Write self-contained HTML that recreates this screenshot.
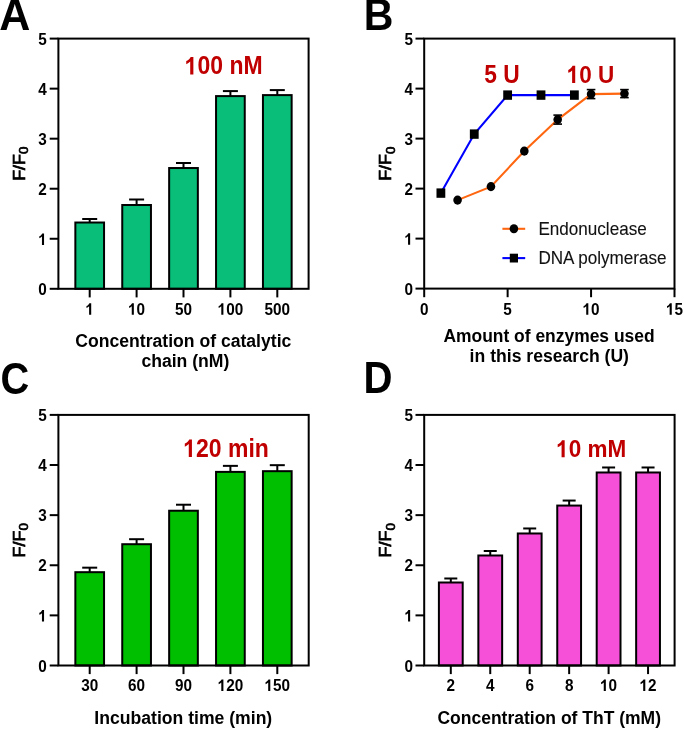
<!DOCTYPE html>
<html><head><meta charset="utf-8"><style>
html,body{margin:0;padding:0;background:#fff;}
body{width:685px;height:730px;overflow:hidden;}
svg{display:block;font-family:"Liberation Sans", sans-serif;filter:blur(0.35px);}
</style></head><body>
<svg width="685" height="730" viewBox="0 0 685 730">
<text transform="translate(-0.80,29.80) scale(1.05,1.07)" font-size="41" font-weight="bold" text-anchor="start" fill="#000" >A</text>
<line x1="89.70" y1="222.52" x2="89.70" y2="219.02" stroke="#000" stroke-width="2.0" stroke-linecap="butt"/>
<line x1="82.20" y1="219.02" x2="97.20" y2="219.02" stroke="#000" stroke-width="2.0" stroke-linecap="butt"/>
<rect x="75.35" y="222.52" width="28.70" height="66.28" fill="#08BE78" stroke="#000" stroke-width="2.0"/>
<line x1="89.70" y1="288.80" x2="89.70" y2="297.40" stroke="#000" stroke-width="2.0" stroke-linecap="butt"/>
<line x1="136.60" y1="205.01" x2="136.60" y2="199.50" stroke="#000" stroke-width="2.0" stroke-linecap="butt"/>
<line x1="129.10" y1="199.50" x2="144.10" y2="199.50" stroke="#000" stroke-width="2.0" stroke-linecap="butt"/>
<rect x="122.25" y="205.01" width="28.70" height="83.79" fill="#08BE78" stroke="#000" stroke-width="2.0"/>
<line x1="136.60" y1="288.80" x2="136.60" y2="297.40" stroke="#000" stroke-width="2.0" stroke-linecap="butt"/>
<line x1="183.50" y1="168.03" x2="183.50" y2="163.02" stroke="#000" stroke-width="2.0" stroke-linecap="butt"/>
<line x1="176.00" y1="163.02" x2="191.00" y2="163.02" stroke="#000" stroke-width="2.0" stroke-linecap="butt"/>
<rect x="169.15" y="168.03" width="28.70" height="120.77" fill="#08BE78" stroke="#000" stroke-width="2.0"/>
<line x1="183.50" y1="288.80" x2="183.50" y2="297.40" stroke="#000" stroke-width="2.0" stroke-linecap="butt"/>
<line x1="230.40" y1="96.10" x2="230.40" y2="91.09" stroke="#000" stroke-width="2.0" stroke-linecap="butt"/>
<line x1="222.90" y1="91.09" x2="237.90" y2="91.09" stroke="#000" stroke-width="2.0" stroke-linecap="butt"/>
<rect x="216.05" y="96.10" width="28.70" height="192.70" fill="#08BE78" stroke="#000" stroke-width="2.0"/>
<line x1="230.40" y1="288.80" x2="230.40" y2="297.40" stroke="#000" stroke-width="2.0" stroke-linecap="butt"/>
<line x1="277.30" y1="95.10" x2="277.30" y2="90.09" stroke="#000" stroke-width="2.0" stroke-linecap="butt"/>
<line x1="269.80" y1="90.09" x2="284.80" y2="90.09" stroke="#000" stroke-width="2.0" stroke-linecap="butt"/>
<rect x="262.95" y="95.10" width="28.70" height="193.70" fill="#08BE78" stroke="#000" stroke-width="2.0"/>
<line x1="277.30" y1="288.80" x2="277.30" y2="297.40" stroke="#000" stroke-width="2.0" stroke-linecap="butt"/>
<rect x="58.4" y="38.6" width="250.20" height="250.20" fill="none" stroke="#000" stroke-width="2.0"/>
<line x1="49.70" y1="288.80" x2="58.40" y2="288.80" stroke="#000" stroke-width="2.0" stroke-linecap="butt"/>
<text transform="translate(46.80,295.00) scale(1.0,1.09)" font-size="15.3" font-weight="bold" text-anchor="end" fill="#000" >0</text>
<line x1="49.70" y1="238.76" x2="58.40" y2="238.76" stroke="#000" stroke-width="2.0" stroke-linecap="butt"/>
<text transform="translate(46.80,244.96) scale(1.0,1.09)" font-size="15.3" font-weight="bold" text-anchor="end" fill="#000" > </text>
<path transform="translate(46.80,244.96) scale(1.0,1.09) translate(-8.509,0) scale(0.00747,-0.00747)" d="M771 0H490V1035Q340 895 137 830V1075Q245 1110 365 1205Q485 1300 530 1409H771Z" fill="#000"/>
<line x1="49.70" y1="188.72" x2="58.40" y2="188.72" stroke="#000" stroke-width="2.0" stroke-linecap="butt"/>
<text transform="translate(46.80,194.92) scale(1.0,1.09)" font-size="15.3" font-weight="bold" text-anchor="end" fill="#000" >2</text>
<line x1="49.70" y1="138.68" x2="58.40" y2="138.68" stroke="#000" stroke-width="2.0" stroke-linecap="butt"/>
<text transform="translate(46.80,144.88) scale(1.0,1.09)" font-size="15.3" font-weight="bold" text-anchor="end" fill="#000" >3</text>
<line x1="49.70" y1="88.64" x2="58.40" y2="88.64" stroke="#000" stroke-width="2.0" stroke-linecap="butt"/>
<text transform="translate(46.80,94.84) scale(1.0,1.09)" font-size="15.3" font-weight="bold" text-anchor="end" fill="#000" >4</text>
<line x1="49.70" y1="38.60" x2="58.40" y2="38.60" stroke="#000" stroke-width="2.0" stroke-linecap="butt"/>
<text transform="translate(46.80,44.80) scale(1.0,1.09)" font-size="15.3" font-weight="bold" text-anchor="end" fill="#000" >5</text>
<text transform="translate(25.00,163.70) rotate(-90) scale(1.12,1)" font-size="16" font-weight="normal" text-anchor="middle" fill="#000" stroke="#000" stroke-width="0.7">F/F<tspan font-size="12" dy="3.3">0</tspan></text>
<text transform="translate(89.70,314.70) scale(1.0,1.09)" font-size="15.3" font-weight="bold" text-anchor="middle" fill="#000" > </text>
<path transform="translate(89.70,314.70) scale(1.0,1.09) translate(-4.255,0) scale(0.00747,-0.00747)" d="M771 0H490V1035Q340 895 137 830V1075Q245 1110 365 1205Q485 1300 530 1409H771Z" fill="#000"/>
<text transform="translate(136.60,314.70) scale(1.0,1.09)" font-size="15.3" font-weight="bold" text-anchor="middle" fill="#000" > 0</text>
<path transform="translate(136.60,314.70) scale(1.0,1.09) translate(-8.509,0) scale(0.00747,-0.00747)" d="M771 0H490V1035Q340 895 137 830V1075Q245 1110 365 1205Q485 1300 530 1409H771Z" fill="#000"/>
<text transform="translate(183.50,314.70) scale(1.0,1.09)" font-size="15.3" font-weight="bold" text-anchor="middle" fill="#000" >50</text>
<text transform="translate(230.40,314.70) scale(1.0,1.09)" font-size="15.3" font-weight="bold" text-anchor="middle" fill="#000" > 00</text>
<path transform="translate(230.40,314.70) scale(1.0,1.09) translate(-12.764,0) scale(0.00747,-0.00747)" d="M771 0H490V1035Q340 895 137 830V1075Q245 1110 365 1205Q485 1300 530 1409H771Z" fill="#000"/>
<text transform="translate(277.30,314.70) scale(1.0,1.09)" font-size="15.3" font-weight="bold" text-anchor="middle" fill="#000" >500</text>
<text x="183.30" y="347.20" font-size="17.6" font-weight="bold" text-anchor="middle" fill="#000" >Concentration of catalytic</text>
<text x="185.40" y="367.30" font-size="17.6" font-weight="bold" text-anchor="middle" fill="#000" >chain (nM)</text>
<text transform="translate(223.70,74.40) scale(1.0,1.1)" font-size="23" font-weight="bold" text-anchor="middle" fill="#C00000" > 00 nM</text>
<path transform="translate(223.70,74.40) scale(1.0,1.1) translate(-38.987,0) scale(0.01123,-0.01123)" d="M771 0H490V1035Q340 895 137 830V1075Q245 1110 365 1205Q485 1300 530 1409H771Z" fill="#C00000"/>
<text transform="translate(0.60,393.60) scale(0.97,1.07)" font-size="41" font-weight="bold" text-anchor="start" fill="#000" >C</text>
<line x1="89.70" y1="572.18" x2="89.70" y2="567.67" stroke="#000" stroke-width="2.0" stroke-linecap="butt"/>
<line x1="82.20" y1="567.67" x2="97.20" y2="567.67" stroke="#000" stroke-width="2.0" stroke-linecap="butt"/>
<rect x="75.35" y="572.18" width="28.70" height="93.32" fill="#00BF00" stroke="#000" stroke-width="2.0"/>
<line x1="89.70" y1="665.50" x2="89.70" y2="674.10" stroke="#000" stroke-width="2.0" stroke-linecap="butt"/>
<line x1="136.60" y1="544.21" x2="136.60" y2="539.20" stroke="#000" stroke-width="2.0" stroke-linecap="butt"/>
<line x1="129.10" y1="539.20" x2="144.10" y2="539.20" stroke="#000" stroke-width="2.0" stroke-linecap="butt"/>
<rect x="122.25" y="544.21" width="28.70" height="121.29" fill="#00BF00" stroke="#000" stroke-width="2.0"/>
<line x1="136.60" y1="665.50" x2="136.60" y2="674.10" stroke="#000" stroke-width="2.0" stroke-linecap="butt"/>
<line x1="183.50" y1="510.73" x2="183.50" y2="504.72" stroke="#000" stroke-width="2.0" stroke-linecap="butt"/>
<line x1="176.00" y1="504.72" x2="191.00" y2="504.72" stroke="#000" stroke-width="2.0" stroke-linecap="butt"/>
<rect x="169.15" y="510.73" width="28.70" height="154.77" fill="#00BF00" stroke="#000" stroke-width="2.0"/>
<line x1="183.50" y1="665.50" x2="183.50" y2="674.10" stroke="#000" stroke-width="2.0" stroke-linecap="butt"/>
<line x1="230.40" y1="471.89" x2="230.40" y2="465.87" stroke="#000" stroke-width="2.0" stroke-linecap="butt"/>
<line x1="222.90" y1="465.87" x2="237.90" y2="465.87" stroke="#000" stroke-width="2.0" stroke-linecap="butt"/>
<rect x="216.05" y="471.89" width="28.70" height="193.61" fill="#00BF00" stroke="#000" stroke-width="2.0"/>
<line x1="230.40" y1="665.50" x2="230.40" y2="674.10" stroke="#000" stroke-width="2.0" stroke-linecap="butt"/>
<line x1="277.30" y1="471.18" x2="277.30" y2="465.17" stroke="#000" stroke-width="2.0" stroke-linecap="butt"/>
<line x1="269.80" y1="465.17" x2="284.80" y2="465.17" stroke="#000" stroke-width="2.0" stroke-linecap="butt"/>
<rect x="262.95" y="471.18" width="28.70" height="194.32" fill="#00BF00" stroke="#000" stroke-width="2.0"/>
<line x1="277.30" y1="665.50" x2="277.30" y2="674.10" stroke="#000" stroke-width="2.0" stroke-linecap="butt"/>
<rect x="58.4" y="414.9" width="250.30" height="250.60" fill="none" stroke="#000" stroke-width="2.0"/>
<line x1="49.70" y1="665.50" x2="58.40" y2="665.50" stroke="#000" stroke-width="2.0" stroke-linecap="butt"/>
<text transform="translate(46.80,671.70) scale(1.0,1.09)" font-size="15.3" font-weight="bold" text-anchor="end" fill="#000" >0</text>
<line x1="49.70" y1="615.38" x2="58.40" y2="615.38" stroke="#000" stroke-width="2.0" stroke-linecap="butt"/>
<text transform="translate(46.80,621.58) scale(1.0,1.09)" font-size="15.3" font-weight="bold" text-anchor="end" fill="#000" > </text>
<path transform="translate(46.80,621.58) scale(1.0,1.09) translate(-8.509,0) scale(0.00747,-0.00747)" d="M771 0H490V1035Q340 895 137 830V1075Q245 1110 365 1205Q485 1300 530 1409H771Z" fill="#000"/>
<line x1="49.70" y1="565.26" x2="58.40" y2="565.26" stroke="#000" stroke-width="2.0" stroke-linecap="butt"/>
<text transform="translate(46.80,571.46) scale(1.0,1.09)" font-size="15.3" font-weight="bold" text-anchor="end" fill="#000" >2</text>
<line x1="49.70" y1="515.14" x2="58.40" y2="515.14" stroke="#000" stroke-width="2.0" stroke-linecap="butt"/>
<text transform="translate(46.80,521.34) scale(1.0,1.09)" font-size="15.3" font-weight="bold" text-anchor="end" fill="#000" >3</text>
<line x1="49.70" y1="465.02" x2="58.40" y2="465.02" stroke="#000" stroke-width="2.0" stroke-linecap="butt"/>
<text transform="translate(46.80,471.22) scale(1.0,1.09)" font-size="15.3" font-weight="bold" text-anchor="end" fill="#000" >4</text>
<line x1="49.70" y1="414.90" x2="58.40" y2="414.90" stroke="#000" stroke-width="2.0" stroke-linecap="butt"/>
<text transform="translate(46.80,421.10) scale(1.0,1.09)" font-size="15.3" font-weight="bold" text-anchor="end" fill="#000" >5</text>
<text transform="translate(25.00,540.30) rotate(-90) scale(1.12,1)" font-size="16" font-weight="normal" text-anchor="middle" fill="#000" stroke="#000" stroke-width="0.7">F/F<tspan font-size="12" dy="3.3">0</tspan></text>
<text transform="translate(89.70,690.90) scale(1.0,1.09)" font-size="15.3" font-weight="bold" text-anchor="middle" fill="#000" >30</text>
<text transform="translate(136.60,690.90) scale(1.0,1.09)" font-size="15.3" font-weight="bold" text-anchor="middle" fill="#000" >60</text>
<text transform="translate(183.50,690.90) scale(1.0,1.09)" font-size="15.3" font-weight="bold" text-anchor="middle" fill="#000" >90</text>
<text transform="translate(230.40,690.90) scale(1.0,1.09)" font-size="15.3" font-weight="bold" text-anchor="middle" fill="#000" > 20</text>
<path transform="translate(230.40,690.90) scale(1.0,1.09) translate(-12.764,0) scale(0.00747,-0.00747)" d="M771 0H490V1035Q340 895 137 830V1075Q245 1110 365 1205Q485 1300 530 1409H771Z" fill="#000"/>
<text transform="translate(277.30,690.90) scale(1.0,1.09)" font-size="15.3" font-weight="bold" text-anchor="middle" fill="#000" > 50</text>
<path transform="translate(277.30,690.90) scale(1.0,1.09) translate(-12.764,0) scale(0.00747,-0.00747)" d="M771 0H490V1035Q340 895 137 830V1075Q245 1110 365 1205Q485 1300 530 1409H771Z" fill="#000"/>
<text x="183.30" y="723.50" font-size="17.6" font-weight="bold" text-anchor="middle" fill="#000" >Incubation time (min)</text>
<text transform="translate(226.10,456.90) scale(1.0,1.1)" font-size="23" font-weight="bold" text-anchor="middle" fill="#C00000" > 20 min</text>
<path transform="translate(226.10,456.90) scale(1.0,1.1) translate(-42.827,0) scale(0.01123,-0.01123)" d="M771 0H490V1035Q340 895 137 830V1075Q245 1110 365 1205Q485 1300 530 1409H771Z" fill="#C00000"/>
<text transform="translate(363.70,29.80) scale(1.0,1.07)" font-size="41" font-weight="bold" text-anchor="start" fill="#000" >B</text>
<rect x="424.2" y="38.6" width="250.30" height="250.00" fill="none" stroke="#000" stroke-width="2.0"/>
<line x1="415.50" y1="288.60" x2="424.20" y2="288.60" stroke="#000" stroke-width="2.0" stroke-linecap="butt"/>
<text transform="translate(412.90,294.80) scale(1.0,1.09)" font-size="15.3" font-weight="bold" text-anchor="end" fill="#000" >0</text>
<line x1="415.50" y1="238.60" x2="424.20" y2="238.60" stroke="#000" stroke-width="2.0" stroke-linecap="butt"/>
<text transform="translate(412.90,244.80) scale(1.0,1.09)" font-size="15.3" font-weight="bold" text-anchor="end" fill="#000" > </text>
<path transform="translate(412.90,244.80) scale(1.0,1.09) translate(-8.509,0) scale(0.00747,-0.00747)" d="M771 0H490V1035Q340 895 137 830V1075Q245 1110 365 1205Q485 1300 530 1409H771Z" fill="#000"/>
<line x1="415.50" y1="188.60" x2="424.20" y2="188.60" stroke="#000" stroke-width="2.0" stroke-linecap="butt"/>
<text transform="translate(412.90,194.80) scale(1.0,1.09)" font-size="15.3" font-weight="bold" text-anchor="end" fill="#000" >2</text>
<line x1="415.50" y1="138.60" x2="424.20" y2="138.60" stroke="#000" stroke-width="2.0" stroke-linecap="butt"/>
<text transform="translate(412.90,144.80) scale(1.0,1.09)" font-size="15.3" font-weight="bold" text-anchor="end" fill="#000" >3</text>
<line x1="415.50" y1="88.60" x2="424.20" y2="88.60" stroke="#000" stroke-width="2.0" stroke-linecap="butt"/>
<text transform="translate(412.90,94.80) scale(1.0,1.09)" font-size="15.3" font-weight="bold" text-anchor="end" fill="#000" >4</text>
<line x1="415.50" y1="38.60" x2="424.20" y2="38.60" stroke="#000" stroke-width="2.0" stroke-linecap="butt"/>
<text transform="translate(412.90,44.80) scale(1.0,1.09)" font-size="15.3" font-weight="bold" text-anchor="end" fill="#000" >5</text>
<text transform="translate(391.30,163.70) rotate(-90) scale(1.12,1)" font-size="16" font-weight="normal" text-anchor="middle" fill="#000" stroke="#000" stroke-width="0.7">F/F<tspan font-size="12" dy="3.3">0</tspan></text>
<line x1="424.20" y1="288.60" x2="424.20" y2="297.20" stroke="#000" stroke-width="2.0" stroke-linecap="butt"/>
<text transform="translate(424.20,314.80) scale(1.0,1.09)" font-size="15.3" font-weight="bold" text-anchor="middle" fill="#000" >0</text>
<line x1="507.63" y1="288.60" x2="507.63" y2="297.20" stroke="#000" stroke-width="2.0" stroke-linecap="butt"/>
<text transform="translate(507.63,314.80) scale(1.0,1.09)" font-size="15.3" font-weight="bold" text-anchor="middle" fill="#000" >5</text>
<line x1="591.07" y1="288.60" x2="591.07" y2="297.20" stroke="#000" stroke-width="2.0" stroke-linecap="butt"/>
<text transform="translate(591.07,314.80) scale(1.0,1.09)" font-size="15.3" font-weight="bold" text-anchor="middle" fill="#000" > 0</text>
<path transform="translate(591.07,314.80) scale(1.0,1.09) translate(-8.509,0) scale(0.00747,-0.00747)" d="M771 0H490V1035Q340 895 137 830V1075Q245 1110 365 1205Q485 1300 530 1409H771Z" fill="#000"/>
<line x1="674.50" y1="288.60" x2="674.50" y2="297.20" stroke="#000" stroke-width="2.0" stroke-linecap="butt"/>
<text transform="translate(674.50,314.80) scale(1.0,1.09)" font-size="15.3" font-weight="bold" text-anchor="middle" fill="#000" > 5</text>
<path transform="translate(674.50,314.80) scale(1.0,1.09) translate(-8.509,0) scale(0.00747,-0.00747)" d="M771 0H490V1035Q340 895 137 830V1075Q245 1110 365 1205Q485 1300 530 1409H771Z" fill="#000"/>
<text x="549.00" y="341.60" font-size="17.45" font-weight="bold" text-anchor="middle" fill="#000" >Amount of enzymes used</text>
<text x="549.30" y="361.90" font-size="17.6" font-weight="bold" text-anchor="middle" fill="#000" >in this research (U)</text>
<polyline points="457.57,200.10 490.95,186.60 524.32,151.10 557.69,119.60 591.07,94.10 624.44,93.60" fill="none" stroke="#FF6610" stroke-width="2.1"/>
<polyline points="440.89,193.10 474.26,134.10 507.63,95.10 541.01,95.10 574.38,95.10" fill="none" stroke="#0000FF" stroke-width="2.1"/>
<ellipse cx="457.57" cy="200.10" rx="4.3" ry="4.55" fill="#000"/>
<ellipse cx="490.95" cy="186.60" rx="4.3" ry="4.55" fill="#000"/>
<ellipse cx="524.32" cy="151.10" rx="4.3" ry="4.55" fill="#000"/>
<line x1="557.69" y1="124.10" x2="557.69" y2="115.10" stroke="#000" stroke-width="1.6" stroke-linecap="butt"/>
<line x1="553.39" y1="124.10" x2="561.99" y2="124.10" stroke="#000" stroke-width="1.6" stroke-linecap="butt"/>
<line x1="553.39" y1="115.10" x2="561.99" y2="115.10" stroke="#000" stroke-width="1.6" stroke-linecap="butt"/>
<ellipse cx="557.69" cy="119.60" rx="4.3" ry="4.55" fill="#000"/>
<line x1="591.07" y1="98.60" x2="591.07" y2="89.60" stroke="#000" stroke-width="1.6" stroke-linecap="butt"/>
<line x1="586.77" y1="98.60" x2="595.37" y2="98.60" stroke="#000" stroke-width="1.6" stroke-linecap="butt"/>
<line x1="586.77" y1="89.60" x2="595.37" y2="89.60" stroke="#000" stroke-width="1.6" stroke-linecap="butt"/>
<ellipse cx="591.07" cy="94.10" rx="4.3" ry="4.55" fill="#000"/>
<line x1="624.44" y1="97.60" x2="624.44" y2="89.60" stroke="#000" stroke-width="1.6" stroke-linecap="butt"/>
<line x1="620.14" y1="97.60" x2="628.74" y2="97.60" stroke="#000" stroke-width="1.6" stroke-linecap="butt"/>
<line x1="620.14" y1="89.60" x2="628.74" y2="89.60" stroke="#000" stroke-width="1.6" stroke-linecap="butt"/>
<ellipse cx="624.44" cy="93.60" rx="4.3" ry="4.55" fill="#000"/>
<rect x="436.49" y="188.40" width="8.8" height="9.4" fill="#000"/>
<rect x="469.86" y="129.40" width="8.8" height="9.4" fill="#000"/>
<rect x="503.23" y="90.40" width="8.8" height="9.4" fill="#000"/>
<rect x="536.61" y="90.40" width="8.8" height="9.4" fill="#000"/>
<rect x="569.98" y="90.40" width="8.8" height="9.4" fill="#000"/>
<text transform="translate(502.10,82.90) scale(1.0,1.1)" font-size="22.8" font-weight="bold" text-anchor="middle" fill="#C00000" >5 U</text>
<text transform="translate(590.50,82.90) scale(1.0,1.1)" font-size="22.5" font-weight="bold" text-anchor="middle" fill="#C00000" > 0 U</text>
<path transform="translate(590.50,82.90) scale(1.0,1.1) translate(-23.763,0) scale(0.01099,-0.01099)" d="M771 0H490V1035Q340 895 137 830V1075Q245 1110 365 1205Q485 1300 530 1409H771Z" fill="#C00000"/>
<line x1="502.40" y1="228.80" x2="525.20" y2="228.80" stroke="#FF6610" stroke-width="2.1" stroke-linecap="butt"/>
<ellipse cx="513.9" cy="228.7" rx="4.3" ry="4.55" fill="#000"/>
<text transform="translate(538.40,235.00) scale(1.0,1.12)" font-size="17.1" font-weight="normal" text-anchor="start" fill="#111" stroke="#111" stroke-width="0.1">Endonuclease</text>
<line x1="502.40" y1="258.10" x2="525.20" y2="258.10" stroke="#0000FF" stroke-width="2.1" stroke-linecap="butt"/>
<rect x="509.8" y="253.7" width="8.2" height="8.8" fill="#000"/>
<text transform="translate(538.40,264.30) scale(1.0,1.12)" font-size="17.1" font-weight="normal" text-anchor="start" fill="#111" stroke="#111" stroke-width="0.1">DNA polymerase</text>
<text transform="translate(363.60,393.40) scale(0.98,1.06)" font-size="41" font-weight="bold" text-anchor="start" fill="#000" >D</text>
<line x1="450.80" y1="582.50" x2="450.80" y2="578.49" stroke="#000" stroke-width="2.0" stroke-linecap="butt"/>
<line x1="444.30" y1="578.49" x2="457.30" y2="578.49" stroke="#000" stroke-width="2.0" stroke-linecap="butt"/>
<rect x="438.90" y="582.50" width="23.80" height="83.00" fill="#F550D7" stroke="#000" stroke-width="2.0"/>
<line x1="450.80" y1="665.50" x2="450.80" y2="674.10" stroke="#000" stroke-width="2.0" stroke-linecap="butt"/>
<line x1="490.25" y1="555.49" x2="490.25" y2="550.98" stroke="#000" stroke-width="2.0" stroke-linecap="butt"/>
<line x1="483.75" y1="550.98" x2="496.75" y2="550.98" stroke="#000" stroke-width="2.0" stroke-linecap="butt"/>
<rect x="478.35" y="555.49" width="23.80" height="110.01" fill="#F550D7" stroke="#000" stroke-width="2.0"/>
<line x1="490.25" y1="665.50" x2="490.25" y2="674.10" stroke="#000" stroke-width="2.0" stroke-linecap="butt"/>
<line x1="529.70" y1="533.48" x2="529.70" y2="528.47" stroke="#000" stroke-width="2.0" stroke-linecap="butt"/>
<line x1="523.20" y1="528.47" x2="536.20" y2="528.47" stroke="#000" stroke-width="2.0" stroke-linecap="butt"/>
<rect x="517.80" y="533.48" width="23.80" height="132.02" fill="#F550D7" stroke="#000" stroke-width="2.0"/>
<line x1="529.70" y1="665.50" x2="529.70" y2="674.10" stroke="#000" stroke-width="2.0" stroke-linecap="butt"/>
<line x1="569.15" y1="505.57" x2="569.15" y2="500.56" stroke="#000" stroke-width="2.0" stroke-linecap="butt"/>
<line x1="562.65" y1="500.56" x2="575.65" y2="500.56" stroke="#000" stroke-width="2.0" stroke-linecap="butt"/>
<rect x="557.25" y="505.57" width="23.80" height="159.93" fill="#F550D7" stroke="#000" stroke-width="2.0"/>
<line x1="569.15" y1="665.50" x2="569.15" y2="674.10" stroke="#000" stroke-width="2.0" stroke-linecap="butt"/>
<line x1="608.60" y1="472.49" x2="608.60" y2="467.48" stroke="#000" stroke-width="2.0" stroke-linecap="butt"/>
<line x1="602.10" y1="467.48" x2="615.10" y2="467.48" stroke="#000" stroke-width="2.0" stroke-linecap="butt"/>
<rect x="596.70" y="472.49" width="23.80" height="193.01" fill="#F550D7" stroke="#000" stroke-width="2.0"/>
<line x1="608.60" y1="665.50" x2="608.60" y2="674.10" stroke="#000" stroke-width="2.0" stroke-linecap="butt"/>
<line x1="648.05" y1="472.49" x2="648.05" y2="467.48" stroke="#000" stroke-width="2.0" stroke-linecap="butt"/>
<line x1="641.55" y1="467.48" x2="654.55" y2="467.48" stroke="#000" stroke-width="2.0" stroke-linecap="butt"/>
<rect x="636.15" y="472.49" width="23.80" height="193.01" fill="#F550D7" stroke="#000" stroke-width="2.0"/>
<line x1="648.05" y1="665.50" x2="648.05" y2="674.10" stroke="#000" stroke-width="2.0" stroke-linecap="butt"/>
<rect x="424.2" y="414.9" width="250.40" height="250.60" fill="none" stroke="#000" stroke-width="2.0"/>
<line x1="415.50" y1="665.50" x2="424.20" y2="665.50" stroke="#000" stroke-width="2.0" stroke-linecap="butt"/>
<text transform="translate(412.90,671.70) scale(1.0,1.09)" font-size="15.3" font-weight="bold" text-anchor="end" fill="#000" >0</text>
<line x1="415.50" y1="615.38" x2="424.20" y2="615.38" stroke="#000" stroke-width="2.0" stroke-linecap="butt"/>
<text transform="translate(412.90,621.58) scale(1.0,1.09)" font-size="15.3" font-weight="bold" text-anchor="end" fill="#000" > </text>
<path transform="translate(412.90,621.58) scale(1.0,1.09) translate(-8.509,0) scale(0.00747,-0.00747)" d="M771 0H490V1035Q340 895 137 830V1075Q245 1110 365 1205Q485 1300 530 1409H771Z" fill="#000"/>
<line x1="415.50" y1="565.26" x2="424.20" y2="565.26" stroke="#000" stroke-width="2.0" stroke-linecap="butt"/>
<text transform="translate(412.90,571.46) scale(1.0,1.09)" font-size="15.3" font-weight="bold" text-anchor="end" fill="#000" >2</text>
<line x1="415.50" y1="515.14" x2="424.20" y2="515.14" stroke="#000" stroke-width="2.0" stroke-linecap="butt"/>
<text transform="translate(412.90,521.34) scale(1.0,1.09)" font-size="15.3" font-weight="bold" text-anchor="end" fill="#000" >3</text>
<line x1="415.50" y1="465.02" x2="424.20" y2="465.02" stroke="#000" stroke-width="2.0" stroke-linecap="butt"/>
<text transform="translate(412.90,471.22) scale(1.0,1.09)" font-size="15.3" font-weight="bold" text-anchor="end" fill="#000" >4</text>
<line x1="415.50" y1="414.90" x2="424.20" y2="414.90" stroke="#000" stroke-width="2.0" stroke-linecap="butt"/>
<text transform="translate(412.90,421.10) scale(1.0,1.09)" font-size="15.3" font-weight="bold" text-anchor="end" fill="#000" >5</text>
<text transform="translate(391.30,540.30) rotate(-90) scale(1.12,1)" font-size="16" font-weight="normal" text-anchor="middle" fill="#000" stroke="#000" stroke-width="0.7">F/F<tspan font-size="12" dy="3.3">0</tspan></text>
<text transform="translate(450.80,690.90) scale(1.0,1.09)" font-size="15.3" font-weight="bold" text-anchor="middle" fill="#000" >2</text>
<text transform="translate(490.25,690.90) scale(1.0,1.09)" font-size="15.3" font-weight="bold" text-anchor="middle" fill="#000" >4</text>
<text transform="translate(529.70,690.90) scale(1.0,1.09)" font-size="15.3" font-weight="bold" text-anchor="middle" fill="#000" >6</text>
<text transform="translate(569.15,690.90) scale(1.0,1.09)" font-size="15.3" font-weight="bold" text-anchor="middle" fill="#000" >8</text>
<text transform="translate(608.60,690.90) scale(1.0,1.09)" font-size="15.3" font-weight="bold" text-anchor="middle" fill="#000" > 0</text>
<path transform="translate(608.60,690.90) scale(1.0,1.09) translate(-8.509,0) scale(0.00747,-0.00747)" d="M771 0H490V1035Q340 895 137 830V1075Q245 1110 365 1205Q485 1300 530 1409H771Z" fill="#000"/>
<text transform="translate(648.05,690.90) scale(1.0,1.09)" font-size="15.3" font-weight="bold" text-anchor="middle" fill="#000" > 2</text>
<path transform="translate(648.05,690.90) scale(1.0,1.09) translate(-8.509,0) scale(0.00747,-0.00747)" d="M771 0H490V1035Q340 895 137 830V1075Q245 1110 365 1205Q485 1300 530 1409H771Z" fill="#000"/>
<text x="549.20" y="723.90" font-size="17.5" font-weight="bold" text-anchor="middle" fill="#000" >Concentration of ThT (mM)</text>
<text transform="translate(591.20,457.30) scale(1.0,1.1)" font-size="22.5" font-weight="bold" text-anchor="middle" fill="#C00000" > 0 mM</text>
<path transform="translate(591.20,457.30) scale(1.0,1.1) translate(-35.013,0) scale(0.01099,-0.01099)" d="M771 0H490V1035Q340 895 137 830V1075Q245 1110 365 1205Q485 1300 530 1409H771Z" fill="#C00000"/>
</svg>
</body></html>
